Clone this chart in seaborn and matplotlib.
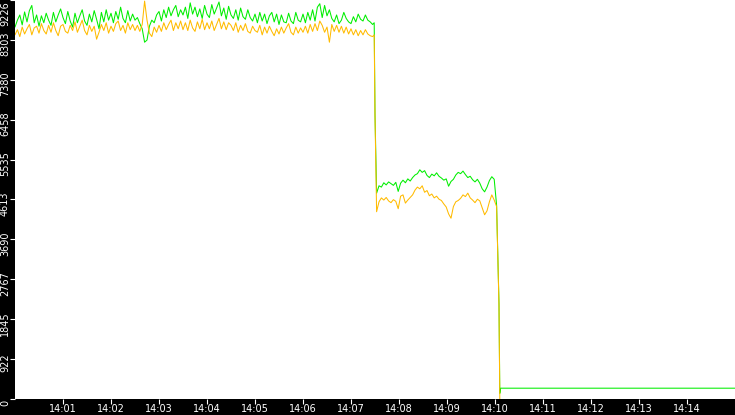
import numpy as np
import pandas as pd
import seaborn as sns
import matplotlib.pyplot as plt
import matplotlib.dates as mdates
from matplotlib.transforms import ScaledTranslation

sns.set_style("white")
plt.rcParams["font.family"] = ["DejaVu Sans"]

DPI = 100
FIGSIZE = (7.35, 4.15)
START = pd.Timestamp("2024-01-01 14:00:00")
END_S = 900
STEP_S = 3

# first plateau, one sample every 3 s from 14:00:00
green_high = [
    8600, 8760, 8880, 8650, 8950, 8720, 8980, 9100, 8700, 8880,
    8620, 8860, 8700, 8920, 8760, 8640, 8940, 8720, 8880, 9020,
    8820, 8680, 8960, 8740, 8600, 8920, 8700, 8860, 9000, 8740,
    8640, 8900, 8720, 8980, 8780, 8560, 8940, 8720, 9000, 8760,
    8920, 8700, 8960, 8780, 9060, 8800, 8700, 8980, 8740, 8900,
    8760, 8820, 8680, 8560, 8250, 8300, 8620, 8760, 8700, 8880,
    8960, 8740, 9000, 8820, 9060, 8860, 9000, 9100, 8840, 9000,
    8880, 9060, 8800, 9160, 8900, 9060, 8840, 9020, 8800, 9100,
    8900, 8820, 9120, 8900, 9040, 9180, 8860, 9040, 8780, 9080,
    8880, 8800, 9000, 8760, 9040, 8840, 8780, 9000, 8820, 8740,
    8900, 8700, 8940, 8740, 8900, 8680, 8860, 8940, 8720, 8900,
    8660, 8880, 8720, 8700, 8920, 8740, 8680, 8940, 8760, 8720,
    8900, 8700, 8940, 8760, 9000, 8740, 9060, 9140, 8820, 9100,
    8860, 9000, 8800, 8720, 8880, 8680, 8760, 8940, 8800, 8720,
    8680, 8840, 8720, 8900, 8780, 8740, 8880, 8760, 8720, 8660,
]
amber_high = [
    8420, 8540, 8380, 8600, 8440, 8560, 8660, 8420, 8580, 8620,
    8460, 8680, 8520, 8440, 8640, 8480, 8700, 8520, 8400, 8620,
    8660, 8500, 8460, 8640, 8520, 8720, 8480, 8620, 8760, 8520,
    8420, 8640, 8500, 8620, 8320, 8480, 8660, 8520, 8700, 8460,
    8620, 8500, 8680, 8740, 8520, 8640, 8460, 8700, 8540, 8660,
    8520, 8640, 8500, 8660, 9200, 8760, 8460, 8380, 8600, 8480,
    8640, 8500, 8700, 8540, 8660, 8760, 8520, 8700, 8560, 8740,
    8540, 8700, 8520, 8760, 8580, 8500, 8720, 8560, 8780, 8540,
    8700, 8560, 8740, 8520, 8660, 8800, 8560, 8720, 8540, 8700,
    8640, 8520, 8700, 8480, 8640, 8520, 8680, 8500, 8460, 8620,
    8520, 8480, 8640, 8420, 8600, 8460, 8620, 8500, 8400, 8560,
    8440, 8600, 8460, 8580, 8680, 8480, 8420, 8600, 8460, 8580,
    8480, 8620, 8460, 8660, 8500, 8680, 8520, 8740, 8640, 8480,
    8600, 8250, 8660, 8500, 8640, 8480, 8620, 8460, 8600, 8440,
    8560, 8420, 8540, 8400, 8520, 8420, 8540, 8440, 8400, 8380,
]
# first drop (14:07:29, 14:07:30)
drop1_secs = [449, 450]
green_drop1 = [8700, 6580]
amber_drop1 = [8420, 6550]

# second plateau, every 3 s from 14:07:32
MID_START_S = 452
green_mid = [
    4760, 4930, 4900, 5000, 4950, 5020, 4980, 4940, 5010, 4800,
    4990, 5060, 5000, 5090, 5040, 5120, 5180, 5210, 5300, 5240,
    5280, 5170, 5120, 5200, 5160, 5230, 5150, 5110, 5060, 5090,
    4920, 5030, 5080, 5180, 5240, 5210, 5270, 5190, 5120, 5150,
    5070, 5020, 5080, 4990, 4860, 4790, 4900, 5050, 5140, 5080,
]
amber_mid = [
    4330, 4560, 4650, 4600, 4660, 4580, 4540, 4610, 4570, 4400,
    4690, 4720, 4530, 4600, 4660, 4720, 4830, 4900, 4860, 4930,
    4780, 4820, 4700, 4740, 4650, 4690, 4620, 4590, 4510, 4440,
    4280, 4180, 4450, 4560, 4590, 4640, 4720, 4680, 4760, 4650,
    4600, 4540, 4620, 4580, 4420, 4260, 4350, 4560, 4720, 4600,
]
# second drop
drop2_secs = [602, 605, 606]
green_drop2 = [4480, 2200, 130]
amber_drop2 = [4450, 2150, 0]
# green idles after that
tail_secs = [607, END_S]
green_tail = [250, 250]

y_ticks = [0, 922.6, 1845.2, 2767.8, 3690.4, 4613, 5535.6, 6458.2, 7380.8, 8303.4, 9226]
y_labels = ["0", "922", "1845", "2767", "3690", "4613", "5535", "6458", "7380", "8303", "9226"]
x_tick_minutes = list(range(1, 15))

high_secs = list(np.arange(len(green_high)) * STEP_S)
mid_secs = list(MID_START_S + np.arange(len(green_mid)) * STEP_S)

green_secs = high_secs + drop1_secs + mid_secs + drop2_secs + tail_secs
green_vals = green_high + green_drop1 + green_mid + green_drop2 + green_tail
amber_secs = high_secs + drop1_secs + mid_secs + drop2_secs
amber_vals = amber_high + amber_drop1 + amber_mid + amber_drop2

df = pd.concat([
    pd.DataFrame({"secs": green_secs, "value": green_vals, "series": "in"}),
    pd.DataFrame({"secs": amber_secs, "value": amber_vals, "series": "out"}),
])
df["time"] = START + pd.to_timedelta(df["secs"], unit="s")

fig = plt.figure(figsize=FIGSIZE, dpi=DPI, facecolor="black")
ax = fig.add_axes([15 / 735, 16 / 415, 720 / 735, 399 / 415])
ax.set_facecolor("white")

sns.lineplot(
    data=df, x="time", y="value", hue="series",
    hue_order=["in", "out"], palette={"in": "#00ee00", "out": "#ffbb00"},
    estimator=None, linewidth=0.75, legend=False, ax=ax,
)

ax.set_xlim(START, START + pd.Timedelta(seconds=END_S))
ax.set_ylim(0, 9226)
ax.set_xticks([START + pd.Timedelta(minutes=m) for m in x_tick_minutes])
ax.xaxis.set_major_formatter(mdates.DateFormatter("%H:%M"))
ax.set_yticks(y_ticks, y_labels)
ax.set_xlabel("")
ax.set_ylabel("")
for s in ax.spines.values():
    s.set_visible(False)

# ticks 5 px long, white on the black margins
ax.tick_params(axis="both", colors="white", labelcolor="white", length=3.6,
               width=0.8, direction="out", labelsize=7, pad=0.3)
ax.tick_params(axis="x", bottom=True)
ax.tick_params(axis="y", left=True, pad=0)

px = lambda dx, dy: ScaledTranslation(dx / DPI, dy / DPI, fig.dpi_scale_trans)
for i, lbl in enumerate(ax.get_yticklabels()):
    lbl.set_rotation(90)
    lbl.set_ha("center")
    if i == len(y_labels) - 1:
        lbl.set_va("top")
        lbl.set_transform(lbl.get_transform() + px(-5, -1))
    else:
        lbl.set_va("center")
        lbl.set_transform(lbl.get_transform() + px(-5, -4))

fig.savefig("out.png", dpi=DPI, facecolor="black")
